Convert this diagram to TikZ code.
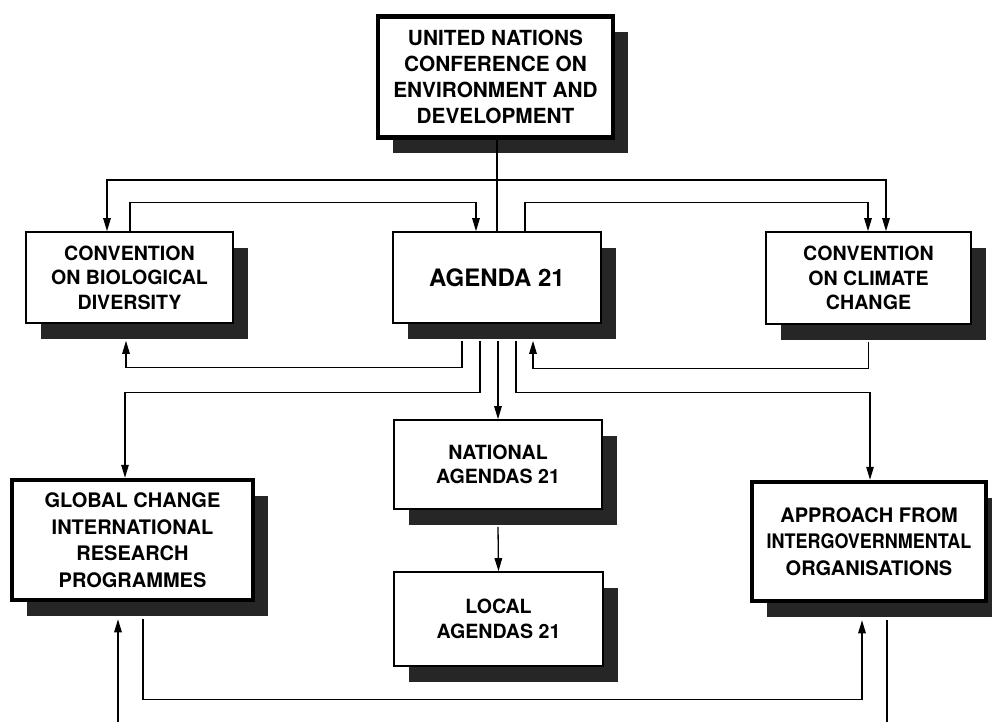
\documentclass[tikz,border=0pt]{standalone}
\usepackage{fontspec}
\setmainfont{TeX Gyre Heros}
\usetikzlibrary{arrows.meta,shadows,calc}

\begin{document}
\begin{tikzpicture}[x=1pt,y=-1pt,
  box/.style={draw, fill=white, line width=1.6pt, rectangle, inner sep=0pt,
    align=center, font=\bfseries\fontsize{19.6}{24.5}\selectfont,
    drop shadow={shadow xshift=15pt, shadow yshift=-16pt, opacity=1, fill=black!85}},
  thickbox/.style={box, line width=4.5pt, font=\bfseries\fontsize{20}{26.5}\selectfont},
  link/.style={line width=1.3pt},
  arr/.style={link, -{Triangle[length=13pt,width=7.5pt]}}]

\clip (0,0) rectangle (992,722);
\fill[white] (0,0) rectangle (992,722);

% boxes
\node[thickbox, minimum width=235pt, minimum height=121pt,
  font=\bfseries\fontsize{20.8}{26}\selectfont] (unced) at (495.5,77)
  {UNITED NATIONS\\CONFERENCE ON\\ENVIRONMENT AND\\DEVELOPMENT};
\node[box, minimum width=207pt, minimum height=91pt] (cbd) at (129.5,277.5)
  {CONVENTION\\ON BIOLOGICAL\\DIVERSITY};
\node[box, minimum width=208pt, minimum height=91pt,
  font=\bfseries\fontsize{24}{28}\selectfont] (agenda) at (497,277.5) {AGENDA 21};
\node[box, minimum width=205pt, minimum height=92pt] (climate) at (868.5,278)
  {CONVENTION\\ON CLIMATE\\CHANGE};
\node[box, minimum width=208pt, minimum height=89pt] (national) at (498,464.5)
  {NATIONAL\\AGENDAS 21};
\node[box, minimum width=209pt, minimum height=94pt] (local) at (498.5,619)
  {LOCAL\\AGENDAS 21};
\node[thickbox, minimum width=241pt, minimum height=120pt] (global) at (132.5,540)
  {GLOBAL CHANGE\\INTERNATIONAL\\RESEARCH\\PROGRAMMES};
\node[thickbox, minimum width=234pt, minimum height=119pt] (approach) at (869,541.5)
  {APPROACH FROM\\\scalebox{0.9}[1]{INTERGOVERNMENTAL}\\ORGANISATIONS};

% conference to the conventions and Agenda 21
\coordinate (junc) at (497,180);
\draw[link] (unced.south -| agenda.north) -- (agenda.north);
\draw[arr] (junc) -| ($(cbd.north)+(-22.5,0)$);
\draw[arr] (junc) -| ($(climate.north)+(17.5,0)$);

% exchanges along the top of the middle row
\draw[arr] ($(cbd.north)+(0.5,0)$) -- ++(0,-29) -| ($(agenda.north)+(-21,0)$);
\draw[arr] ($(agenda.north)+(28,0)$) -- ++(0,-29) -| ($(climate.north)+(-0.5,0)$);

% links leaving the bottom of Agenda 21
\draw[arr] ($(agenda.south)+(-35,17)$) -- ++(0,27) -| ($(cbd.south)+(-3.5,17)$);
\draw[arr] ($(agenda.south)+(-17,17)$) -- ++(0,52) -| ($(global.north)+(-7.5,0)$);
\draw[arr] ($(agenda.south)+(1,17)$) -- (national.north);
\draw[arr] ($(agenda.south)+(19,17)$) -- ++(0,52) -| ($(approach.north)+(1,0)$);
\draw[arr] ($(climate.south)+(0,17)$) -- ++(0,27) -| ($(agenda.south)+(36,17)$);

% national to local
\draw[arr] ($(national.south)+(0,17)$) -- (local.north);

% bottom row
\coordinate (gin) at (118,722);
\coordinate (aout) at (887,722);
\draw[arr] ($(global.south)+(10.5,17)$) -- ++(0,80) -| ($(approach.south)+(-7,17)$);
\draw[arr] (gin) -- ($(global.south)+(-14.5,17)$);
\draw[link] ($(approach.south)+(18,17)$) -- (aout);

\end{tikzpicture}
\end{document}
